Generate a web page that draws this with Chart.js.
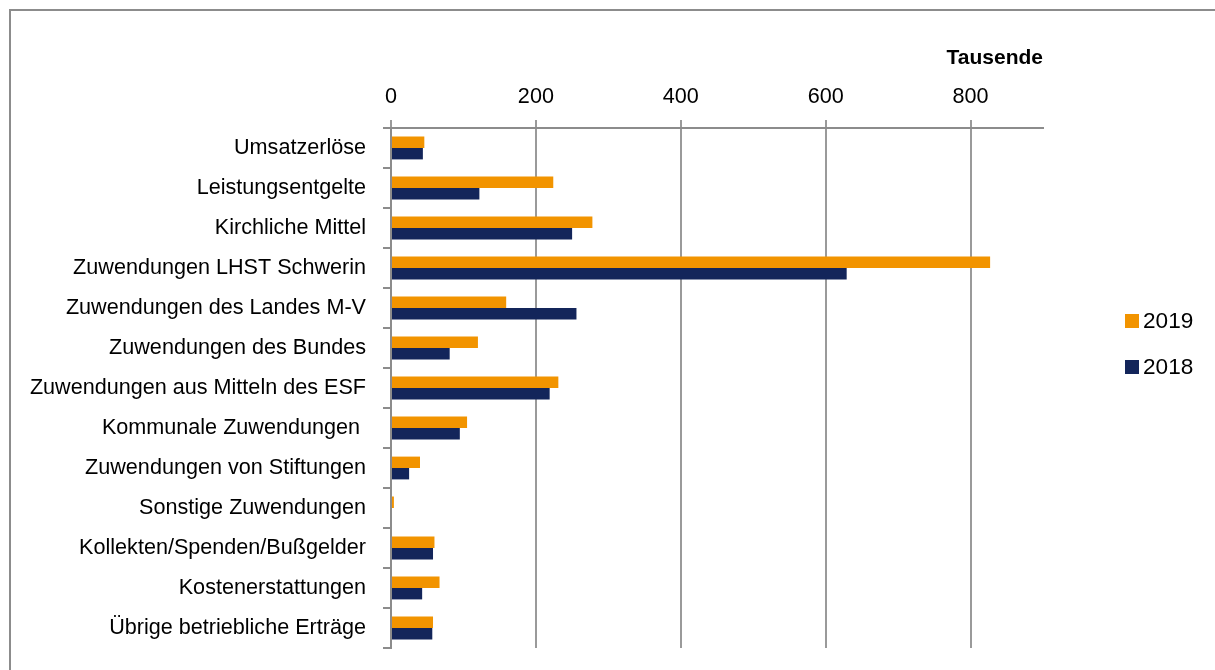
<!DOCTYPE html>
<html>
<head>
<meta charset="utf-8">
<script src="https://cdn.jsdelivr.net/npm/chart.js@4"></script>
<style>
html,body{margin:0;padding:0;background:#fff;}
#wrap{position:relative;width:1215px;height:670px;}
#frame{position:absolute;left:9px;top:9px;right:0;bottom:0;border-top:2px solid #8c8c8c;border-left:2px solid #8c8c8c;}
#c{position:absolute;left:0;top:0;}
</style>
</head>
<body>
<div id="wrap"><div id="frame"></div><canvas id="c" width="1215" height="670"></canvas></div>
<script>
const categories = ["Umsatzerlöse","Leistungsentgelte","Kirchliche Mittel","Zuwendungen LHST Schwerin","Zuwendungen des Landes M-V","Zuwendungen des Bundes","Zuwendungen aus Mitteln des ESF","Kommunale Zuwendungen ","Zuwendungen von Stiftungen","Sonstige Zuwendungen","Kollekten/Spenden/Bußgelder","Kostenerstattungen","Übrige betriebliche Erträge"];
const values2019 = [46, 224, 278, 827, 159, 120, 231, 105, 40, 4, 60, 67, 58];
const values2018 = [44, 122, 250, 629, 256, 81, 219, 95, 25, 0, 58, 43, 57];
const seriesLabels = ["2019", "2018"];
const axisTitle = "Tausende";

// pick a font family / size so that the longest label matches the reference width
const mctx = document.createElement('canvas').getContext('2d');
function w(font, s){ mctx.font = font; return mctx.measureText(s).width; }
const probe = "Zuwendungen aus Mitteln des ESF";
const hasNarrow = w('100px monospace', probe) !== w('100px "Liberation Sans Narrow", monospace', probe);
const FAMILY = hasNarrow ? '"Liberation Sans Narrow", "Liberation Sans", Arial, sans-serif' : '"Liberation Sans", Arial, sans-serif';
const SIZE = Math.round(336 * 100 / w('100px ' + FAMILY, probe) * 10) / 10;

const GRID = '#9a9a9a';
const AXIS = '#8c8c8c';

const legendPlugin = {
  id: 'sideLegend',
  afterDraw(chart) {
    const ctx = chart.ctx;
    ctx.save();
    ctx.font = (SIZE + 1) + 'px ' + FAMILY;
    ctx.textBaseline = 'middle';
    ctx.textAlign = 'left';
    chart.data.datasets.forEach((ds, i) => {
      const cy = 321 + i * 46;
      ctx.fillStyle = ds.backgroundColor;
      ctx.fillRect(1125, cy - 7, 14, 14);
      ctx.fillStyle = '#000';
      ctx.fillText(ds.label, 1143, cy + 1);
    });
    ctx.restore();
  }
};

new Chart(document.getElementById('c'), {
  type: 'bar',
  data: {
    labels: categories,
    datasets: [
      { label: seriesLabels[0], data: values2019, backgroundColor: '#F29400', borderWidth: 0 },
      { label: seriesLabels[1], data: values2018, backgroundColor: '#13255A', borderWidth: 0 }
    ]
  },
  options: {
    indexAxis: 'y',
    responsive: false,
    animation: false,
    categoryPercentage: 0.57,
    barPercentage: 1.0,
    layout: { padding: { left: 0, top: 0, right: 172, bottom: 22 } },
    plugins: { legend: { display: false }, tooltip: { enabled: false } },
    scales: {
      x: {
        position: 'top',
        min: 0, max: 900,
        ticks: { stepSize: 200, includeBounds: false, color: '#000', font: { family: FAMILY, size: SIZE }, padding: 10 },
        grid: { color: GRID, lineWidth: 2, tickLength: 8 },
        border: { color: AXIS, width: 2 },
        title: { display: true, text: axisTitle, align: 'end', color: '#000', font: { family: '"Liberation Sans", Arial, sans-serif', size: 21, weight: 'bold' }, padding: { top: 46, bottom: 0 } },
        afterFit(s) { s.height = 128; s.paddingLeft = 0; s.paddingRight = 0; }
      },
      y: {
        ticks: { color: '#000', font: { family: FAMILY, size: SIZE }, padding: 17 },
        grid: { drawOnChartArea: false, color: AXIS, lineWidth: 2, tickLength: 8, offset: true },
        border: { color: AXIS, width: 2 },
        afterFit(s) { s.width = 391; s.paddingTop = 0; s.paddingBottom = 0; }
      }
    }
  },
  plugins: [legendPlugin]
});
</script>
</body>
</html>
